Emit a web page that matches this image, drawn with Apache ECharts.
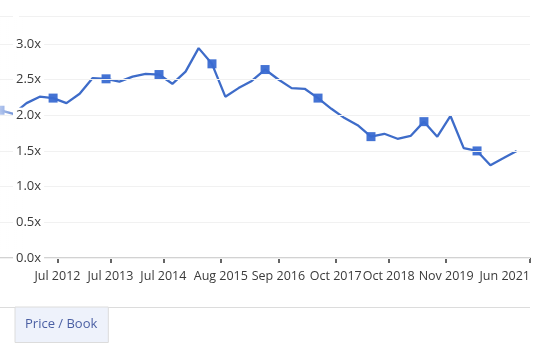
<!DOCTYPE html>
<html>
<head>
<meta charset="utf-8">
<script src="https://cdn.jsdelivr.net/npm/echarts@6/dist/echarts.min.js"></script>
<style>
  html, body { margin: 0; padding: 0; background: #fff; }
  #chart { width: 535px; height: 351px; }
</style>
</head>
<body>
<div id="chart"></div>
<script>
// quarterly price / book ratio
const dates = [
  "2011-06-01", "2011-09-01", "2011-12-01", "2012-03-01",
  "2012-06-01", "2012-09-01", "2012-12-01", "2013-03-01",
  "2013-06-01", "2013-09-01", "2013-12-01", "2014-03-01",
  "2014-06-01", "2014-09-01", "2014-12-01", "2015-03-01",
  "2015-06-01", "2015-09-01", "2015-12-01", "2016-03-01",
  "2016-06-01", "2016-09-01", "2016-12-01", "2017-03-01",
  "2017-06-01", "2017-09-01", "2017-12-01", "2018-03-01",
  "2018-06-01", "2018-09-01", "2018-12-01", "2019-03-01",
  "2019-06-01", "2019-09-01", "2019-12-01", "2020-03-01",
  "2020-06-01", "2020-09-01", "2020-12-01", "2021-03-01"
];
const priceBook = [
  2.07, 2.02, 2.17, 2.26,
  2.24, 2.17, 2.30, 2.52,
  2.51, 2.47, 2.54, 2.58,
  2.57, 2.44, 2.61, 2.94,
  2.72, 2.26, 2.38, 2.48,
  2.64, 2.50, 2.38, 2.37,
  2.24, 2.09, 1.96, 1.86,
  1.70, 1.74, 1.67, 1.71,
  1.91, 1.70, 1.99, 1.54,
  1.50, 1.30, 1.40, 1.50
];
const tickDates = [
  "2012-07-01", "2013-07-01", "2014-07-01", "2015-08-01", "2016-09-01",
  "2017-10-01", "2018-10-01", "2019-11-01", "2021-06-01"
];
const tickLabels = [
  "Jul 2012", "Jul 2013", "Jul 2014", "Aug 2015", "Sep 2016",
  "Oct 2017", "Oct 2018", "Nov 2019", "Jun 2021"
];
const seriesName = "Price / Book";

const toTime = d => Date.UTC(+d.slice(0, 4), +d.slice(5, 7) - 1, +d.slice(8, 10));
const tickTimes = tickDates.map(toTime);
const font = "'Open Sans', sans-serif";
const blue = "#3e6cc9";

const myChart = echarts.init(document.getElementById("chart"));

myChart.setOption({
  animation: false,
  textStyle: { fontFamily: font },
  grid: { left: 0, right: 5, top: 16, bottom: 93 },
  legend: {
    data: [seriesName],
    left: 15,
    top: 307,
    icon: "none",
    itemWidth: 0,
    itemGap: 0,
    padding: [10, 11, 12, 5],
    backgroundColor: "#eef2fb",
    borderColor: "#dcdcdc",
    borderWidth: 1,
    borderRadius: 0,
    selectedMode: false,
    textStyle: { color: "#4a5fa3", fontSize: 13, fontFamily: font }
  },
  graphic: [
    {
      type: "line",
      shape: { x1: 0, y1: 307.5, x2: 530, y2: 307.5 },
      style: { stroke: "#dcdcdc", lineWidth: 1 },
      z: 0
    },
    {
      type: "rect",
      shape: { x: 0, y: 16, width: 24, height: 240 },
      style: {
        fill: new echarts.graphic.LinearGradient(0, 0, 1, 0, [
          { offset: 0, color: "rgba(255,255,255,0.6)" },
          { offset: 1, color: "rgba(255,255,255,0)" }
        ])
      },
      z: 50
    }
  ],
  xAxis: {
    type: "value",
    min: toTime("2011-06-01"),
    max: toTime("2021-06-01"),
    splitLine: { show: false },
    axisLine: { lineStyle: { color: "#d2d2d2", width: 2 } },
    axisTick: {
      customValues: tickTimes,
      length: 5,
      lineStyle: { color: "#333", width: 1.5 }
    },
    axisLabel: {
      customValues: tickTimes,
      margin: 12,
      color: "#3a3a3a",
      fontSize: 12.5,
      fontFamily: font,
      alignMaxLabel: "right",
      hideOverlap: false,
      formatter: function (v) {
        const i = tickTimes.indexOf(v);
        return i >= 0 ? tickLabels[i] : "";
      }
    }
  },
  yAxis: {
    type: "value",
    min: 0,
    max: 3.39,
    interval: 0.5,
    axisLine: { show: false },
    axisTick: { show: false },
    splitLine: { lineStyle: { color: "#f1f1f1", width: 1 } },
    axisLabel: {
      inside: true,
      margin: 13,
      color: "#3a3a3a",
      fontSize: 13,
      fontFamily: font,
      backgroundColor: "#fff",
      padding: [1, 3],
      formatter: function (v) {
        return Math.abs(v / 0.5 - Math.round(v / 0.5)) < 1e-6 ? v.toFixed(1) + "x" : "";
      }
    },
    z: 60
  },
  series: [
    {
      name: seriesName,
      type: "line",
      data: dates.map((d, i) => [toTime(d), priceBook[i]]),
      color: blue,
      lineStyle: { width: 2.3, color: blue },
      symbol: "rect",
      symbolSize: function (val) {
        return new Date(val[0]).getUTCMonth() === 5 ? 9 : 0;
      },
      itemStyle: { color: "#3a6cd2", opacity: 0.95 },
      showAllSymbol: true
    }
  ]
});
</script>
</body>
</html>
